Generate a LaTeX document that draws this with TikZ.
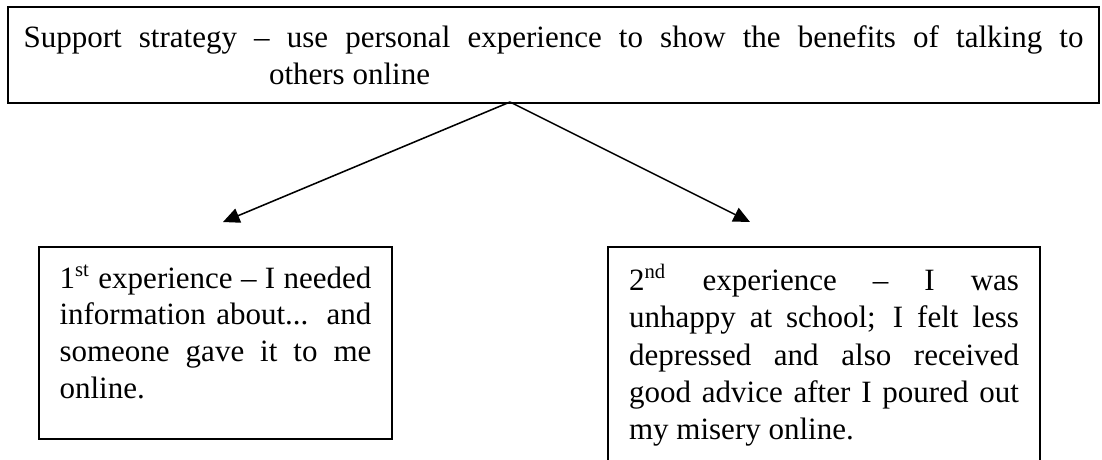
\documentclass[tikz,border=0pt]{standalone}
\usepackage{fontspec}
\setmainfont{Liberation Serif}
\usetikzlibrary{arrows.meta}
\tolerance=10000
\hbadness=10000
\begin{document}
\begin{tikzpicture}[x=0.387pt, y=-0.387pt, >={Triangle[length=6.4pt,width=5.8pt]},
    font=\fontsize{12pt}{14.2pt}\selectfont,
    textbox/.style={draw, thick, anchor=north west, align=justify}]
    \useasboundingbox (0,0) rectangle (1102,459);
    \node[textbox, text width=410.2pt, inner xsep=6pt, inner ysep=0pt, minimum height=37.15pt] (strategy) at (7,6)
        {\rule{0pt}{13pt}Support strategy -- use personal experience to show the benefits of talking to\linebreak\hspace*{95pt}others online\strut};
    \node[textbox, text width=120.7pt, inner xsep=7.93pt, inner ysep=6pt] (first) at (38,246)
        {\strut 1\textsuperscript{st} experience -- I needed\linebreak information about... and\linebreak someone gave it to me\linebreak online.\rule[-9.75pt]{0pt}{9.75pt}};
    \node[textbox, text width=150.9pt, inner xsep=8.13pt, inner ysep=6.5pt, font=\fontsize{12pt}{14.5pt}\selectfont] (second) at (607,246)
        {\strut 2\textsuperscript{nd} experience -- I was\linebreak unhappy at school; I felt less\linebreak depressed and also received\linebreak good advice after I poured out\linebreak my misery online.\rule[-15pt]{0pt}{15pt}};
    \coordinate (fork) at (510,102);
    \coordinate (tipL) at (223,222);
    \coordinate (tipR) at (750,222);
    \draw[->, semithick] (fork) -- (tipL);
    \draw[->, semithick] (fork) -- (tipR);
\end{tikzpicture}
\end{document}
